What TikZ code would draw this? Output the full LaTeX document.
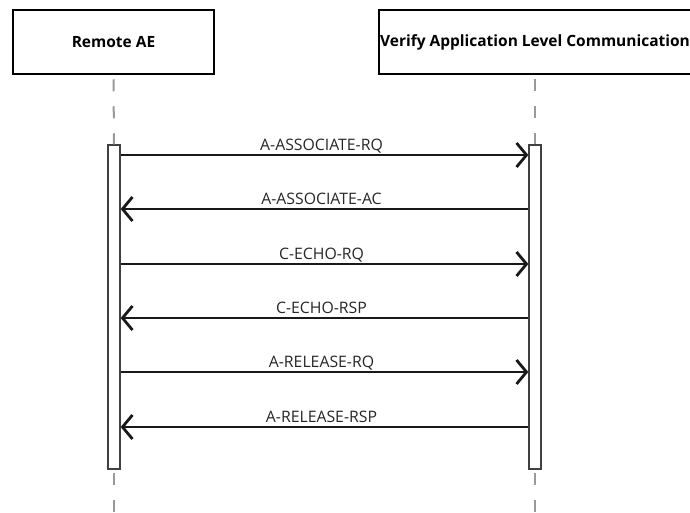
\documentclass[tikz,border=0pt]{standalone}
\usepackage{fontspec}
\setmainfont{Open Sans}
\usetikzlibrary{arrows.meta,calc}
\begin{document}
\begin{tikzpicture}[x=1pt,y=-1pt,
  actor/.style={draw=black, line width=2.5pt, minimum height=64pt, inner sep=0pt, font=\fontsize{15.5}{18}\selectfont\bfseries, anchor=center},
  bar/.style={draw=black!75, fill=white, line width=1.3pt, minimum width=12pt, minimum height=324pt, inner sep=0pt},
  life/.style={draw=black!40, line width=2pt, dash pattern=on 12pt off 15pt},
  msg/.style={draw=black!90, line width=2.2pt, -{Straight Barb[length=10pt,width=24pt,line width=2.8pt]}},
  lbl/.style={font=\fontsize{15.8}{18}\selectfont, color=black!85, anchor=base, inner sep=0pt}]
\useasboundingbox (0,0) rectangle (690,512);
\clip (0,0) rectangle (690,512);
\node[actor, minimum width=201pt] (ra) at (113.5,42) {Remote AE};
\node[actor, minimum width=312pt] (va) at (535,42) {Verify Application Level Communication};
\node[bar] (bl) at (114,307) {};
\node[bar] (br) at (535,307) {};
\coordinate (lbot) at (114,512);
\coordinate (rbot) at (535,512);
\draw[life] (ra.south) ++(0,4) -- (bl.north);
\draw[life] (va.south) ++(0,4) -- (br.north);
\draw[life] (bl.south) ++(0,3) -- (lbot);
\draw[life] (br.south) ++(0,3) -- (rbot);
\foreach \y/\t/\d in {155/A-ASSOCIATE-RQ/r, 209/A-ASSOCIATE-AC/l, 264/C-ECHO-RQ/r, 318/C-ECHO-RSP/l, 372/A-RELEASE-RQ/r, 427/A-RELEASE-RSP/l}{
  \coordinate (L\y) at (bl.east |- 0,\y);
  \coordinate (R\y) at (br.west |- 0,\y);
  \if r\d
    \draw[msg] (L\y) -- (R\y);
  \else
    \draw[msg] (R\y) -- (L\y);
  \fi
  \node[lbl] (t\y) at ($(L\y)!0.5!(R\y)+(-3,-4.5)$) {\t};
}
\end{tikzpicture}
\end{document}
